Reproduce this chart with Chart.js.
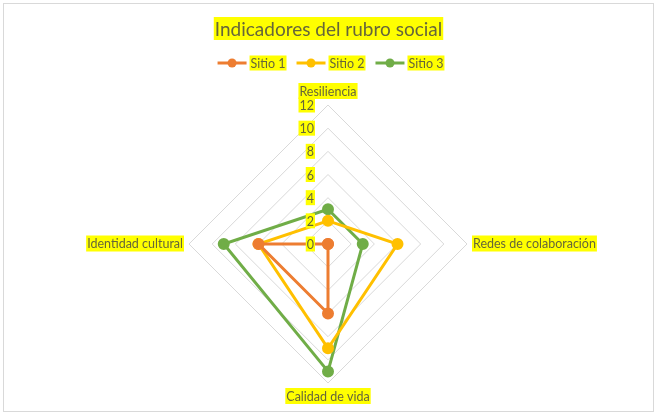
<!DOCTYPE html>
<html>
<head>
<meta charset="utf-8">
<script src="https://cdn.jsdelivr.net/npm/chart.js@4"></script>
<style>
  html,body{margin:0;padding:0;background:#fff;}
  #wrap{position:relative;width:657px;height:416px;}
</style>
</head>
<body>
<div id="wrap"><canvas id="c" width="657" height="416"></canvas></div>
<script>
const titleText = 'Indicadores del rubro social';
const categories = ['Resiliencia', 'Redes de colaboración', 'Calidad de vida', 'Identidad cultural'];
const seriesNames = ['Sitio 1', 'Sitio 2', 'Sitio 3'];
const sitio1 = [0, 0, 6, 6];
const sitio2 = [2, 6, 9, 6];
const sitio3 = [3, 3, 11, 9];
const tickValues = [0, 2, 4, 6, 8, 10, 12];
const seriesColors = ['#ED7D31', '#FFC000', '#70AD47'];

const FONT = 'Lato, "Liberation Sans", sans-serif';
const TEXT = '#66663a';
const HL = '#ffff00';

function hlText(ctx, text, x, y, size, align) {
  ctx.save();
  ctx.font = size + 'px ' + FONT;
  const w = ctx.measureText(text).width;
  let left = x;
  if (align === 'center') left = x - w / 2;
  else if (align === 'right') left = x - w;
  const h = Math.round(size * 1.2);
  ctx.fillStyle = HL;
  ctx.fillRect(left - 1, y - h / 2, w + 2, h);
  ctx.fillStyle = TEXT;
  ctx.textBaseline = 'middle';
  ctx.textAlign = 'left';
  ctx.fillText(text, left, y + 1);
  ctx.restore();
  return w;
}

const decor = {
  id: 'decor',
  beforeDraw(chart) {
    const ctx = chart.ctx;
    ctx.save();
    ctx.fillStyle = '#fff';
    ctx.fillRect(0, 0, chart.width, chart.height);
    ctx.strokeStyle = '#d9d9d9';
    ctx.lineWidth = 1;
    ctx.strokeRect(3.5, 3.5, chart.width - 7, chart.height - 8);
    ctx.restore();
  },
  afterDatasetsDraw(chart) {
    const ctx = chart.ctx;
    const r = chart.scales.r;
    tickValues.forEach(v => {
      const d = r.getDistanceFromCenterForValue(v);
      hlText(ctx, String(v), r.xCenter - 14, r.yCenter - d, 12.5, 'right');
    });
  },
  afterDraw(chart) {
    const ctx = chart.ctx;
    hlText(ctx, titleText, chart.width / 2, 28.5, 19, 'center');
    ctx.save();
    ctx.font = '12.5px ' + FONT;
    const lineW = 29, gap = 4, itemGap = 11;
    const widths = seriesNames.map(n => ctx.measureText(n).width);
    let total = 0;
    widths.forEach((w, i) => { total += lineW + gap + w + (i < widths.length - 1 ? itemGap : 0); });
    let x = 330.5 - total / 2;
    const y = 63;
    seriesNames.forEach((n, i) => {
      ctx.strokeStyle = seriesColors[i];
      ctx.lineWidth = 3;
      ctx.beginPath();
      ctx.moveTo(x, y);
      ctx.lineTo(x + lineW, y);
      ctx.stroke();
      ctx.fillStyle = seriesColors[i];
      ctx.beginPath();
      ctx.arc(x + lineW / 2, y, 4.5, 0, Math.PI * 2);
      ctx.fill();
      x += lineW + gap;
      hlText(ctx, n, x, y, 12.5, 'left');
      x += widths[i] + itemGap;
    });
    ctx.restore();
  }
};

const datasets = [sitio1, sitio2, sitio3].map((vals, i) => ({
  label: seriesNames[i],
  data: vals,
  borderColor: seriesColors[i],
  backgroundColor: seriesColors[i],
  pointBackgroundColor: seriesColors[i],
  pointBorderColor: seriesColors[i],
  borderWidth: 3,
  pointRadius: 4.5,
  pointHoverRadius: 4.5,
  fill: false,
  tension: 0
}));

new Chart(document.getElementById('c'), {
  type: 'radar',
  data: { labels: categories, datasets: datasets },
  options: {
    responsive: false,
    animation: false,
    devicePixelRatio: 1,
    layout: { padding: { top: 84, bottom: 11, left: 10, right: 10 } },
    plugins: {
      legend: { display: false },
      title: { display: false },
      tooltip: { enabled: false }
    },
    scales: {
      r: {
        min: 0,
        max: 12,
        ticks: { stepSize: 2, display: false },
        grid: { color: '#d9d9d9', lineWidth: 1 },
        angleLines: { display: false },
        pointLabels: {
          color: TEXT,
          font: { family: FONT, size: 12.5 },
          backdropColor: HL,
          backdropPadding: { top: 1, bottom: 0, left: 1, right: 1 },
          padding: 6
        }
      }
    }
  },
  plugins: [decor]
});
</script>
</body>
</html>
